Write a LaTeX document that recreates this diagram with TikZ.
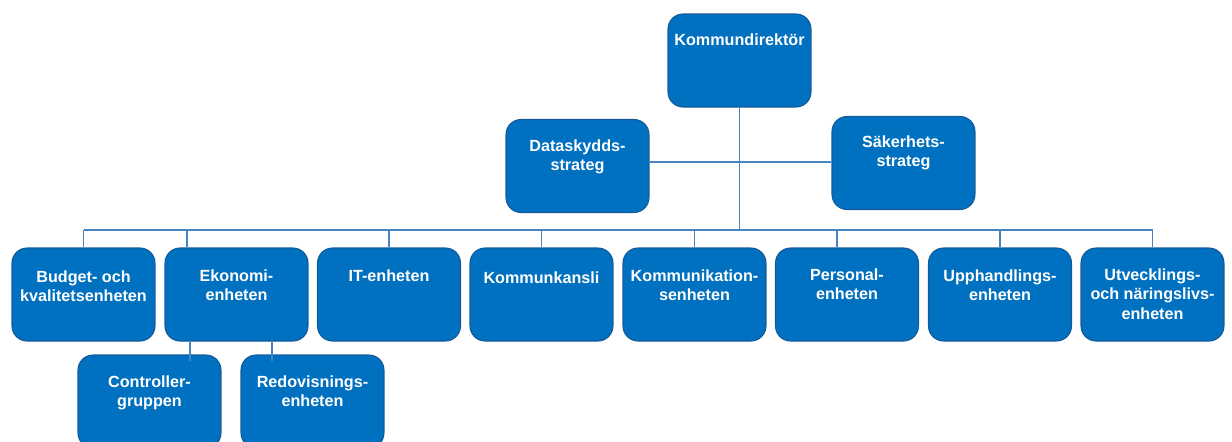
\documentclass[tikz,border=0pt]{standalone}
\usepackage{fontspec}
\setmainfont{Liberation Sans}
\usepackage{xcolor}
\definecolor{unit-blue}{RGB}{0,112,192}
\definecolor{unit-edge}{RGB}{20,90,155}
\definecolor{link-blue}{RGB}{70,132,196}
\usetikzlibrary{calc}

\begin{document}
\begin{tikzpicture}[x=0.02cm,y=-0.02cm,
	unit/.style={draw=unit-edge,fill=unit-blue,line width=0.6pt,rounded corners=0.3cm,
		minimum width=2.86cm,minimum height=1.86cm,inner sep=0pt},
	caption/.style={anchor=north,inner sep=0pt,text=white,align=center,
		font=\fontsize{9.2}{11}\selectfont\bfseries},
	link/.style={draw=link-blue,line width=0.9pt}
	]
	\useasboundingbox (0,0) rectangle (1232,441);

	% top and staff units
	\node[unit] (kd)   at (739.5,60.5) {};
	\node[unit] (data) at (577.5,166)  {};
	\node[unit] (sak)  at (903.5,163)  {};

	% unit row
	\node[unit] (budget) at (83.5,294.5)  {};
	\node[unit] (ekon)   at (236.5,294.5) {};
	\node[unit] (it)     at (389,294.5)   {};
	\node[unit] (kk)     at (541.5,294.5) {};
	\node[unit] (komm)   at (694.5,294.5) {};
	\node[unit] (pers)   at (847,294.5)   {};
	\node[unit] (upph)   at (1000,294.5)  {};
	\node[unit] (utv)    at (1152.5,294.5) {};

	% under Ekonomienheten
	\node[unit] (ctrl)  at (149.5,401.5) {};
	\node[unit] (redov) at (312.5,401.5) {};

	% texts sit near the top of each box
	\node[caption] (kd-t)     at ($(kd.north)+(0,20)$)     {Kommundirektör};
	\node[caption] (data-t)   at ($(data.north)+(0,20)$)   {Dataskydds-\\strateg};
	\node[caption] (sak-t)    at ($(sak.north)+(0,19)$)    {Säkerhets-\\strateg};
	\node[caption] (budget-t) at ($(budget.north)+(0,23)$) {Budget- och\\kvalitetsenheten};
	\node[caption] (ekon-t)   at ($(ekon.north)+(0,22)$)   {Ekonomi-\\enheten};
	\node[caption] (it-t)     at ($(it.north)+(0,22)$)     {IT-enheten};
	\node[caption] (kk-t)     at ($(kk.north)+(0,24)$)     {Kommunkansli};
	\node[caption] (komm-t)   at ($(komm.north)+(0,22)$)   {Kommunikation-\\senheten};
	\node[caption] (pers-t)   at ($(pers.north)+(0,21)$)   {Personal-\\enheten};
	\node[caption] (upph-t)   at ($(upph.north)+(0,22)$)   {Upphandlings-\\enheten};
	\node[caption] (utv-t)    at ($(utv.north)+(0,21)$)    {Utvecklings-\\och näringslivs-\\enheten};
	\node[caption] (ctrl-t)   at ($(ctrl.north)+(0,21)$)   {Controller-\\gruppen};
	\node[caption] (redov-t)  at ($(redov.north)+(0,21)$)  {Redovisnings-\\enheten};

	% connectors
	\coordinate (bus)   at (0,230);
	\coordinate (staff) at (0,162);
	\coordinate (ekx)   at (187,0);
	\coordinate (persx) at (837,0);
	\coordinate (ctrlx) at (190,0);
	\coordinate (redx)  at (272,0);

	\draw[link] (kd.south) -- (kd.south |- bus);
	\draw[link] (data.east |- staff) -- (kd.south |- staff);
	\draw[link] (sak.west |- staff) -- (kd.south |- staff);
	\draw[link] (budget.north |- bus) -- (utv.north |- bus);

	\draw[link] (budget.north) -- (budget.north |- bus);
	\draw[link] (ekon.north -| ekx) -- (bus -| ekx);
	\draw[link] (it.north) -- (it.north |- bus);
	\draw[link] (kk.north) -- (kk.north |- bus);
	\draw[link] (komm.north) -- (komm.north |- bus);
	\draw[link] (pers.north -| persx) -- (bus -| persx);
	\draw[link] (upph.north) -- (upph.north |- bus);
	\draw[link] (utv.north) -- (utv.north |- bus);

	\draw[link] (ekon.south -| ctrlx) -- ($(ctrl.north -| ctrlx)+(0,7)$);
	\draw[link] (ekon.south -| redx) -- ($(redov.north -| redx)+(0,7)$);
\end{tikzpicture}
\end{document}
